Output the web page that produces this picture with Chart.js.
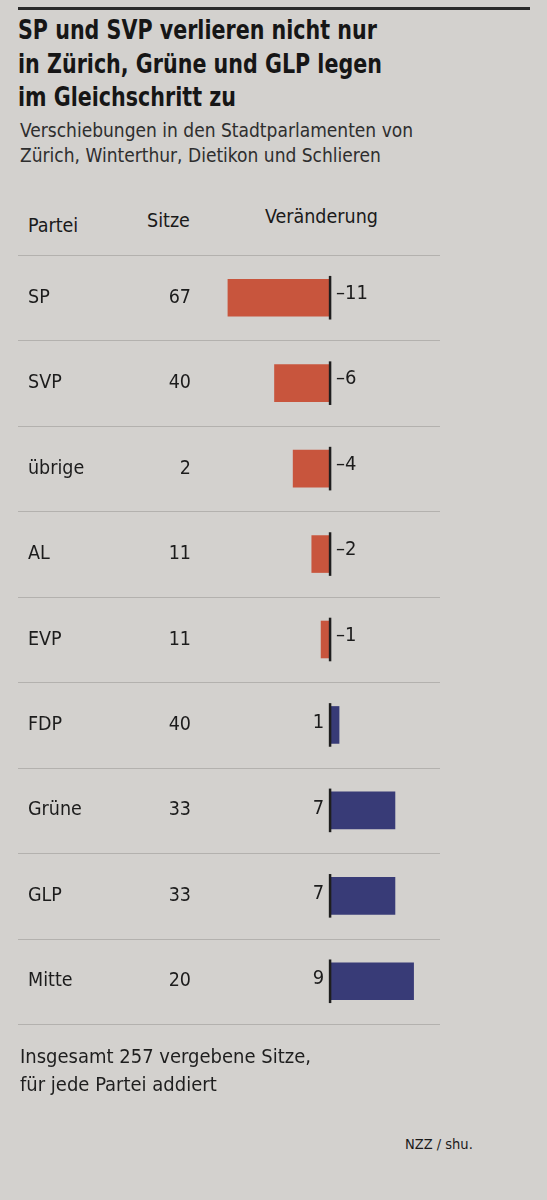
<!DOCTYPE html>
<html>
<head>
<meta charset="utf-8">
<script src="https://cdn.jsdelivr.net/npm/chart.js@4.4.1/dist/chart.umd.min.js"></script>
<style>
  html, body { margin: 0; padding: 0; }
  body {
    width: 547px; height: 1200px; position: relative; overflow: hidden;
    background: #d3d1ce;
    font-family: "Liberation Sans Narrow", "DejaVu Sans Condensed", "Roboto", sans-serif;
    color: #1c1c1c;
  }
  .abs { position: absolute; white-space: nowrap; }
  #rule { left: 18px; top: 7px; width: 512px; height: 3px; background: #2a2a2a; }
  #title { left: 18px; top: 13px; font-size: 27px; font-weight: bold; line-height: 33.5px; color: #161616;
           transform: scaleX(0.85); transform-origin: left top; }
  #sub { left: 20px; top: 118px; font-size: 19px; line-height: 25px; color: #2e2e2e; }
  .head { font-size: 19.5px; color: #1a1a1a; }
  #foot { left: 20px; top: 1042px; font-size: 20px; line-height: 28px; color: #1e1e1e; }
  #src { left: 405px; top: 1136px; font-size: 14.5px; color: #1a1a1a; }
  #chart { position: absolute; left: 0; top: 240px; }
</style>
</head>
<body>
<div class="abs" id="rule"></div>
<div class="abs" id="title">SP und SVP verlieren nicht nur<br>in Zürich, Grüne und GLP legen<br>im Gleichschritt zu</div>
<div class="abs" id="sub">Verschiebungen in den Stadtparlamenten von<br>Zürich, Winterthur, Dietikon und Schlieren</div>
<div class="abs head" style="left:28px; top:214px;">Partei</div>
<div class="abs head" style="left:147px; top:209px;">Sitze</div>
<div class="abs head" style="left:265px; top:205px;">Veränderung</div>
<canvas id="chart" width="547" height="820"></canvas>
<div class="abs" id="foot">Insgesamt 257 vergebene Sitze,<br>für jede Partei addiert</div>
<div class="abs" id="src">NZZ / shu.</div>

<script>
const parteien = ["SP", "SVP", "übrige", "AL", "EVP", "FDP", "Grüne", "GLP", "Mitte"];
const sitze = [67, 40, 2, 11, 11, 40, 33, 33, 20];
const veraenderung = [-11, -6, -4, -2, -1, 1, 7, 7, 9];

const ROT = "#c8553d";
const BLAU = "#383b77";
const FONT = "'Liberation Sans Narrow', 'DejaVu Sans Condensed', Roboto, sans-serif";

// table columns, separators, zero ticks and value labels
const tablePlugin = {
  id: "tableText",
  afterDatasetsDraw(chart) {
    const { ctx } = chart;
    const x = chart.scales.x;
    const y = chart.scales.y;
    const x0 = x.getPixelForValue(0);
    const step = y.getPixelForValue(1) - y.getPixelForValue(0);
    const bars = chart.getDatasetMeta(0).data;

    ctx.save();
    // row separators
    ctx.strokeStyle = "#b3b1ae";
    ctx.lineWidth = 1;
    for (let i = 0; i <= parteien.length; i++) {
      const yy = Math.round(y.getPixelForValue(0) - step / 2 + i * step) + 0.5;
      ctx.beginPath();
      ctx.moveTo(18, yy);
      ctx.lineTo(440, yy);
      ctx.stroke();
    }

    ctx.fillStyle = "#1c1c1c";
    ctx.textBaseline = "middle";
    parteien.forEach((p, i) => {
      const yy = y.getPixelForValue(i);
      ctx.font = "19.5px " + FONT;
      ctx.textAlign = "left";
      ctx.fillText(p, 28, yy);
      ctx.textAlign = "right";
      ctx.fillText(String(sitze[i]), 191, yy);

      // black tick at the zero side of each bar
      const b = bars[i];
      ctx.strokeStyle = "#1e1e1e";
      ctx.lineWidth = 2.5;
      ctx.beginPath();
      ctx.moveTo(x0, b.y - b.height / 2 - 3);
      ctx.lineTo(x0, b.y + b.height / 2 + 3);
      ctx.stroke();

      // value label on the opposite side of the zero line
      const v = veraenderung[i];
      const txt = v < 0 ? "\u2013" + Math.abs(v) : String(v);
      ctx.font = "20px " + FONT;
      if (v < 0) {
        ctx.textAlign = "left";
        ctx.fillText(txt, x0 + 6, yy - 4);
      } else {
        ctx.textAlign = "right";
        ctx.fillText(txt, x0 - 6, yy - 2);
      }
    });
    ctx.restore();
  }
};

new Chart(document.getElementById("chart").getContext("2d"), {
  type: "bar",
  data: {
    labels: parteien,
    datasets: [{
      data: veraenderung,
      backgroundColor: veraenderung.map(v => v < 0 ? ROT : BLAU),
      borderWidth: 0,
      barPercentage: 0.44,
      categoryPercentage: 1
    }]
  },
  options: {
    indexAxis: "y",
    responsive: false,
    animation: false,
    layout: { padding: { top: 15, bottom: 36, left: 18, right: 107 } },
    plugins: {
      legend: { display: false },
      tooltip: { enabled: false }
    },
    scales: {
      x: { display: false, min: -33.5, max: 11.8 },
      y: { display: false }
    }
  },
  plugins: [tablePlugin]
});
</script>
</body>
</html>
